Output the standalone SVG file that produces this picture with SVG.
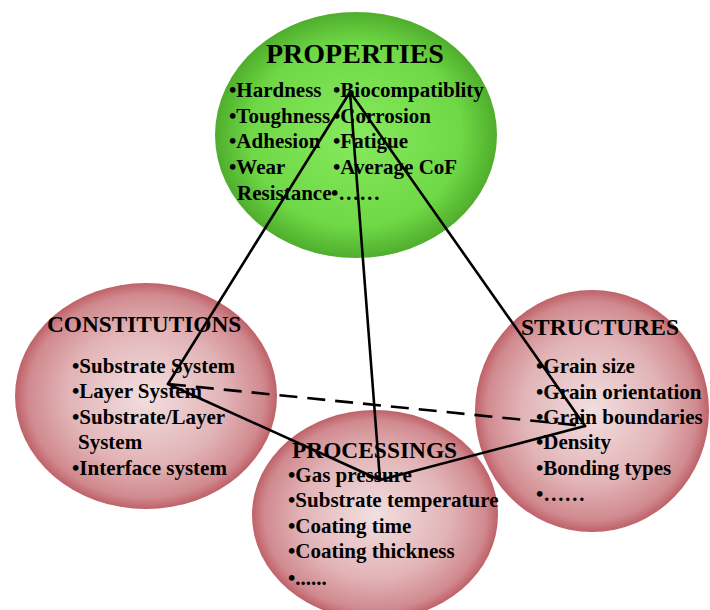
<svg xmlns="http://www.w3.org/2000/svg" width="710" height="610" viewBox="0 0 710 610">
<defs>
<radialGradient id="gGreen" cx="50%" cy="50%" r="50%">
<stop offset="0" stop-color="#86ea5e"/>
<stop offset="0.75" stop-color="#6fd846"/>
<stop offset="1" stop-color="#4fae2c"/>
</radialGradient>
<radialGradient id="gPink" cx="50%" cy="50%" r="50%">
<stop offset="0" stop-color="#f2dfe0"/>
<stop offset="0.6" stop-color="#e2b4b7"/>
<stop offset="0.9" stop-color="#d08a8f"/>
<stop offset="1" stop-color="#bf6168"/>
</radialGradient>
<style>
.h{font-family:"Liberation Serif","Times New Roman",serif;font-weight:bold;fill:#000}
.t{font-family:"Liberation Serif","Times New Roman",serif;font-weight:bold;font-size:21px;fill:#000}
.ln{stroke:#000;stroke-width:2.6;fill:none;stroke-linecap:round}
.dash{stroke-dasharray:18 10;stroke-linecap:butt}
</style>
</defs>
<rect width="710" height="610" fill="#fff"/>
<g id="properties">
<ellipse cx="356" cy="135" rx="141" ry="123" fill="url(#gGreen)"/>
<text class="h" x="266" y="63" font-size="28">PROPERTIES</text>
<text class="t" x="229" y="97">•Hardness</text>
<text class="t" x="229" y="123">•Toughness</text>
<text class="t" x="229" y="148">•Adhesion</text>
<text class="t" x="229" y="174">•Wear</text>
<text class="t" x="237" y="200">Resistance</text>
<text class="t" x="333" y="97">•Biocompatiblity</text>
<text class="t" x="333" y="123">•Corrosion</text>
<text class="t" x="333" y="148">•Fatigue</text>
<text class="t" x="333" y="174">•Average CoF</text>
<text class="t" x="331" y="200">•……</text>
</g>
<g id="constitutions">
<ellipse cx="146" cy="396" rx="131" ry="113" fill="url(#gPink)"/>
<text class="h" x="47" y="332" font-size="23.3">CONSTITUTIONS</text>
<text class="t" x="72" y="373">•Substrate System</text>
<text class="t" x="72" y="398">•Layer System</text>
<text class="t" x="72" y="424">•Substrate/Layer</text>
<text class="t" x="78" y="449">System</text>
<text class="t" x="72" y="475">•Interface system</text>
</g>
<g id="structures">
<ellipse cx="592" cy="411" rx="117" ry="121" fill="url(#gPink)"/>
<text class="h" x="521" y="335" font-size="23.5">STRUCTURES</text>
<text class="t" x="536" y="373">•Grain size</text>
<text class="t" x="536" y="399">•Grain orientation</text>
<text class="t" x="536" y="424">•Grain boundaries</text>
<text class="t" x="536" y="449">•Density</text>
<text class="t" x="536" y="475">•Bonding types</text>
<text class="t" x="536" y="501">•……</text>
</g>
<g id="processings">
<ellipse cx="375" cy="515" rx="123" ry="105" fill="url(#gPink)"/>
<text class="h" x="292" y="458" font-size="23.4">PROCESSINGS</text>
<text class="t" x="288" y="482">•Gas pressure</text>
<text class="t" x="288" y="507">•Substrate temperature</text>
<text class="t" x="288" y="533">•Coating time</text>
<text class="t" x="288" y="558">•Coating thickness</text>
<text class="t" x="288" y="585">•......</text>
</g>
<g id="connectors">
<line class="ln" x1="350" y1="92" x2="168" y2="384"/>
<line class="ln" x1="350" y1="92" x2="380" y2="480"/>
<line class="ln" x1="350" y1="92" x2="585" y2="426"/>
<line class="ln" x1="168" y1="384" x2="380" y2="480"/>
<line class="ln" x1="380" y1="480" x2="585" y2="426"/>
<line class="ln dash" x1="168" y1="384" x2="585" y2="426"/>
</g>
</svg>
